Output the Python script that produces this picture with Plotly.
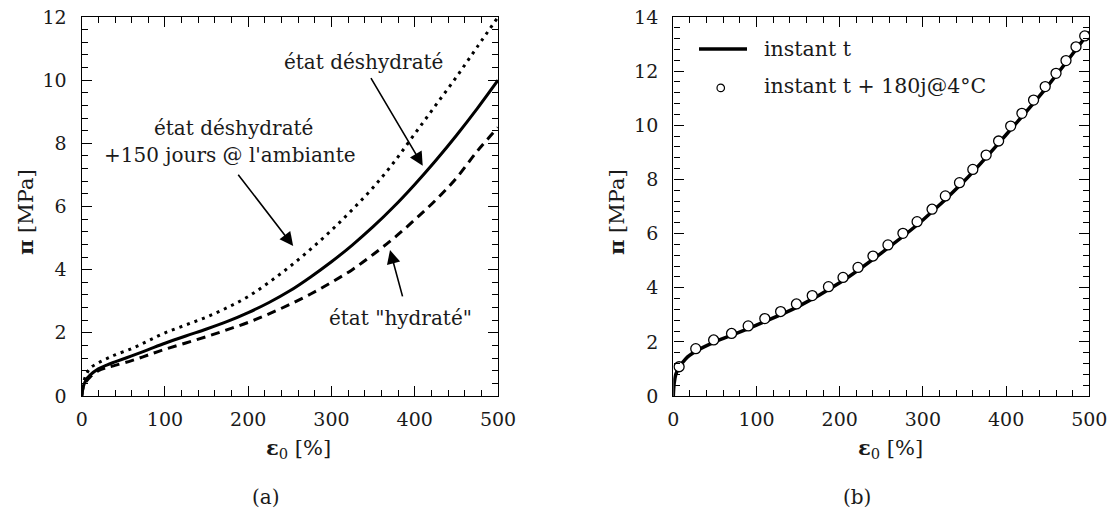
import plotly.graph_objects as go

# ---------------- data ----------------
# (a) left panel
eps_a = [0, 2, 5, 10, 20, 30, 40, 60, 80, 100, 125, 150, 175, 200, 225, 250,
         275, 300, 325, 350, 375, 400, 425, 450, 475, 500]
pi_deshydrate = [0, 0.30, 0.50, 0.66, 0.86, 0.98, 1.08, 1.27, 1.47, 1.67, 1.90, 2.12,
                 2.36, 2.64, 2.96, 3.33, 3.77, 4.25, 4.78, 5.36, 6.00, 6.70, 7.45,
                 8.25, 9.10, 10.0]
pi_150jours = [0, 0.40, 0.65, 0.88, 1.05, 1.18, 1.30, 1.50, 1.75, 2.00, 2.25, 2.50,
               2.80, 3.15, 3.60, 4.10, 4.65, 5.25, 5.90, 6.60, 7.40, 8.30, 9.20,
               10.10, 11.05, 12.0]
pi_hydrate = [0, 0.30, 0.45, 0.60, 0.80, 0.90, 0.97, 1.12, 1.30, 1.48, 1.68, 1.88,
              2.10, 2.33, 2.60, 2.90, 3.23, 3.60, 4.00, 4.48, 5.00, 5.58, 6.20,
              6.90, 7.75, 8.50]

# (b) right panel
eps_b_line = [0, 1, 3, 7, 15, 27, 50, 75, 100, 150, 200, 250, 300, 350, 400, 450, 500]
pi_b_line = [0, 0.45, 0.80, 1.05, 1.38, 1.65, 2.00, 2.30, 2.62, 3.30, 4.18, 5.28,
             6.50, 7.95, 9.65, 11.45, 13.45]
eps_b_pts = [7, 27, 48.5, 70, 90, 110, 129, 148, 167, 186.5, 204, 222, 240, 258, 276,
             293, 311, 327, 344, 360, 376, 391, 405.5, 419, 433, 447, 460, 472, 484, 494.5]
pi_b_pts = [1.08, 1.75, 2.07, 2.31, 2.59, 2.86, 3.12, 3.40, 3.71, 4.04, 4.38, 4.75,
            5.17, 5.58, 6.01, 6.44, 6.90, 7.39, 7.88, 8.37, 8.90, 9.42, 9.97, 10.44,
            10.93, 11.43, 11.92, 12.39, 12.90, 13.30]

x_ticks = [0, 100, 200, 300, 400, 500]
ya_ticks = [0, 2, 4, 6, 8, 10, 12]
yb_ticks = [0, 2, 4, 6, 8, 10, 12, 14]

FONT = "DejaVu Serif"
TXT = "#1a1a1a"
W, H = 1112, 511
TICK_SIZE = 19
TEXT_SIZE = 20
TITLE_SIZE = 21

fig = go.Figure()

fig.add_trace(go.Scatter(x=eps_a, y=pi_150jours, mode="lines", line_shape="spline",
                         line=dict(color="black", width=3, dash="3px,5px"),
                         xaxis="x", yaxis="y", showlegend=False))
fig.add_trace(go.Scatter(x=eps_a, y=pi_hydrate, mode="lines", line_shape="spline",
                         line=dict(color="black", width=3, dash="9px,6px"),
                         xaxis="x", yaxis="y", showlegend=False))
fig.add_trace(go.Scatter(x=eps_a, y=pi_deshydrate, mode="lines", line_shape="spline",
                         line=dict(color="black", width=3),
                         xaxis="x", yaxis="y", showlegend=False))

fig.add_trace(go.Scatter(x=eps_b_line, y=pi_b_line, mode="lines", line_shape="spline",
                         line=dict(color="black", width=3.5),
                         xaxis="x2", yaxis="y2", showlegend=False))
fig.add_trace(go.Scatter(x=eps_b_pts, y=pi_b_pts, mode="markers",
                         marker=dict(symbol="circle", size=10, color="white",
                                     line=dict(color="black", width=1.3)),
                         xaxis="x2", yaxis="y2", showlegend=False))

def px_x(p):
    return p / W

def px_y(p):
    return 1 - p / H

common_x = dict(showline=True, linecolor="black", linewidth=1.4, mirror="allticks",
                ticks="inside", ticklen=10, tickwidth=1.2, tickcolor="black",
                range=[0, 500], tickvals=x_ticks, showgrid=False, zeroline=False,
                automargin=False,
                minor=dict(ticks="inside", ticklen=6, tickwidth=1.1, dtick=20,
                           tickcolor="black", showgrid=False),
                tickfont=dict(family=FONT, size=TICK_SIZE, color=TXT),
                ticklabelstandoff=6)
common_y = dict(showline=True, linecolor="black", linewidth=1.4, mirror="allticks",
                ticks="inside", ticklen=10, tickwidth=1.2, tickcolor="black",
                showgrid=False, zeroline=False, automargin=False,
                minor=dict(ticks="inside", ticklen=6, tickwidth=1.1, dtick=0.4,
                           tickcolor="black", showgrid=False),
                tickfont=dict(family=FONT, size=TICK_SIZE, color=TXT),
                ticklabelstandoff=10)

fig.update_layout(
    width=W, height=H, autosize=False,
    margin=dict(l=0, r=0, t=0, b=0, autoexpand=False),
    font=dict(family=FONT, color=TXT),
    paper_bgcolor="white", plot_bgcolor="white",
    xaxis=dict(domain=[px_x(81.7), px_x(498)], anchor="y", **common_x),
    yaxis=dict(domain=[px_y(396), px_y(17)], anchor="x", range=[0, 12],
               tickvals=ya_ticks, **common_y),
    xaxis2=dict(domain=[px_x(673.3), px_x(1089.3)], anchor="y2", **common_x),
    yaxis2=dict(domain=[px_y(396), px_y(17)], anchor="x2", range=[0, 14],
                tickvals=yb_ticks, **common_y),
)

annotations = []

def label(text, x, y, xref="paper", yref="paper", size=TEXT_SIZE, angle=0):
    annotations.append(dict(text=text, x=x, y=y, xref=xref, yref=yref,
                            showarrow=False, xanchor="center", yanchor="middle",
                            textangle=angle,
                            font=dict(family=FONT, size=size, color=TXT)))

def arrow(x_tip, y_tip, x_tail, y_tail, xr="x", yr="y"):
    annotations.append(dict(text=" ", x=x_tip, y=y_tip, ax=x_tail, ay=y_tail,
                            xref=xr, yref=yr, axref=xr, ayref=yr,
                            showarrow=True, arrowhead=2, arrowsize=1.7,
                            arrowwidth=1.6, arrowcolor="black", standoff=0,
                            startstandoff=0, font=dict(size=1)))

# panel (a) annotations, in data units
label("état déshydraté", 339, 10.58, "x", "y")
arrow(409.6, 7.29, 346, 10.13)
label("état déshydraté", 182, 8.49, "x", "y")
label("+150 jours @ l'ambiante", 178, 7.63, "x", "y")
arrow(254, 4.75, 186.2, 7.07)
label("état \"hydraté\"", 382.4, 2.47, "x", "y")
arrow(370.3, 4.62, 386, 3.09)

# axis titles and panel labels
label("<b>π</b> [MPa]", px_x(25), px_y(212), size=TITLE_SIZE, angle=-90)
label("<b>π</b> [MPa]", px_x(616), px_y(212), size=TITLE_SIZE, angle=-90)
label("<b>ε</b><sub>0</sub> [%]", px_x(298), px_y(448), size=TITLE_SIZE)
label("<b>ε</b><sub>0</sub> [%]", px_x(890), px_y(448), size=TITLE_SIZE)
label("(a)", px_x(266), px_y(497))
label("(b)", px_x(857), px_y(497))

# legend of panel (b)
annotations.append(dict(text="instant t", x=px_x(762), y=px_y(49), xref="paper",
                        yref="paper", showarrow=False, xanchor="left",
                        yanchor="middle", font=dict(family=FONT, size=20.5, color=TXT)))
annotations.append(dict(text="instant t + 180j@4°C", x=px_x(762), y=px_y(86),
                        xref="paper", yref="paper", showarrow=False, xanchor="left",
                        yanchor="middle", font=dict(family=FONT, size=20.5, color=TXT)))

fig.update_layout(annotations=annotations)

shapes = [
    dict(type="line", xref="paper", yref="paper", x0=px_x(699), x1=px_x(747),
         y0=px_y(49), y1=px_y(49), line=dict(color="black", width=3.5)),
    dict(type="circle", xref="paper", yref="paper", x0=px_x(717), x1=px_x(724.5),
         y0=px_y(91.7), y1=px_y(84.2), fillcolor="white",
         line=dict(color="black", width=1.2)),
]
fig.update_layout(shapes=shapes)

# remove the default page margin so the figure sits at the window's corner
fig.write_html("out.html", config={"displayModeBar": False},
               post_script="document.body.style.margin='0';document.body.style.padding='0';")
